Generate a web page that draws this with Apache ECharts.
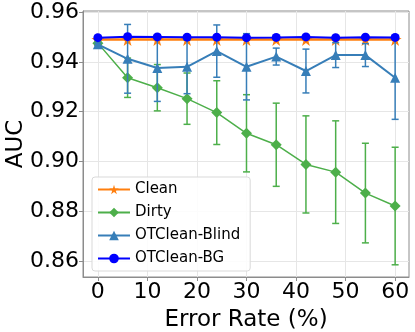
<!DOCTYPE html>
<html>
<head>
<meta charset="utf-8">
<script src="https://cdn.jsdelivr.net/npm/echarts@6/dist/echarts.min.js"></script>
<style>
  html, body { margin: 0; padding: 0; background: #fff; }
  #chart { width: 415px; height: 332px; }
</style>
</head>
<body>
<div id="chart"></div>
<script>
  // error rate (%)
  var errorRates = [0, 6, 12, 18, 24, 30, 36, 42, 48, 54, 60];
  var xTicks = [0, 10, 20, 30, 40, 50, 60];
  var yTicks = [0.86, 0.88, 0.90, 0.92, 0.94, 0.96];

  var cleanMean = [0.9490, 0.9490, 0.9490, 0.9490, 0.9490, 0.9490, 0.9490, 0.9490, 0.9490, 0.9490, 0.9490];
  var cleanErr  = [0.0004, 0.0004, 0.0004, 0.0004, 0.0004, 0.0004, 0.0004, 0.0004, 0.0004, 0.0004, 0.0004];

  var dirtyMean = [0.9475, 0.9336, 0.9296, 0.9252, 0.9196, 0.9113, 0.9067, 0.8988, 0.8957, 0.8873, 0.8821];
  var dirtyErr  = [0.0005, 0.0079, 0.0093, 0.0103, 0.0128, 0.0155, 0.0167, 0.0195, 0.0206, 0.0200, 0.0236];

  var blindMean = [0.9470, 0.9412, 0.9375, 0.9380, 0.9443, 0.9380, 0.9421, 0.9363, 0.9427, 0.9427, 0.9336];
  var blindErr  = [0.0005, 0.0138, 0.0134, 0.0108, 0.0105, 0.0133, 0.0034, 0.0088, 0.0050, 0.0046, 0.0167];

  var bgMean = [0.9497, 0.9501, 0.9500, 0.9499, 0.9499, 0.9497, 0.9498, 0.9500, 0.9497, 0.9499, 0.9498];
  var bgErr  = [0.0006, 0.0006, 0.0006, 0.0006, 0.0006, 0.0006, 0.0006, 0.0006, 0.0006, 0.0006, 0.0006];

  var FONT = 'DejaVu Sans';
  var STAR = 'path://M50,0 L61,35 L98,35 L68,57 L79,91 L50,70 L21,91 L32,57 L2,35 L39,35 Z';

  function pts (mean) {
    return errorRates.map(function (x, i) { return [x, mean[i]]; });
  }
  function bars (mean, err) {
    return errorRates.map(function (x, i) { return [x, mean[i] - err[i], mean[i] + err[i]]; });
  }
  function errRender (color) {
    return function (params, api) {
      var x = api.value(0);
      var lo = api.coord([x, api.value(1)]);
      var hi = api.coord([x, api.value(2)]);
      var w = 3.5;
      var st = { stroke: color, lineWidth: 1.5 };
      return {
        type: 'group',
        children: [
          { type: 'line', shape: { x1: lo[0], y1: lo[1], x2: hi[0], y2: hi[1] }, style: st },
          { type: 'line', shape: { x1: lo[0] - w, y1: lo[1], x2: lo[0] + w, y2: lo[1] }, style: st },
          { type: 'line', shape: { x1: hi[0] - w, y1: hi[1], x2: hi[0] + w, y2: hi[1] }, style: st }
        ]
      };
    };
  }
  function errSeries (mean, err, color, z) {
    return {
      type: 'custom',
      data: bars(mean, err),
      encode: { x: 0, y: [1, 2] },
      renderItem: errRender(color),
      z: z,
      silent: true
    };
  }
  function lineSeries (name, mean, color, symbol, size, width, z) {
    return {
      name: name,
      type: 'line',
      data: pts(mean),
      symbol: symbol,
      symbolSize: size,
      itemStyle: { color: color },
      lineStyle: { color: color, width: width },
      z: z
    };
  }

  var colors = {
    clean: '#ff7f0e',
    dirty: '#4daf4a',
    blind: '#377eb8',
    bg: '#0000ff'
  };

  var option = {
    animation: false,
    textStyle: { fontFamily: FONT },
    grid: {
      left: 83, right: 6, top: 11, bottom: 55,
      containLabel: false,
      outerBoundsMode: 'none',
      show: true, borderColor: '#8c8c8c', borderWidth: 1
    },
    legend: {
      orient: 'vertical',
      left: 92, top: 177,
      itemWidth: 32, itemHeight: 12, itemGap: 8,
      padding: [5, 10, 5, 5],
      backgroundColor: 'rgba(255,255,255,0.85)',
      borderColor: '#d9d9d9', borderWidth: 1, borderRadius: 3,
      textStyle: { fontFamily: FONT, fontSize: 15, color: '#000' },
      data: ['Clean', 'Dirty', 'OTClean-Blind', 'OTClean-BG']
    },
    xAxis: {
      type: 'value',
      min: -3, max: 62.8,
      name: 'Error Rate (%)',
      nameLocation: 'middle',
      nameGap: 32,
      nameMoveOverlap: false,
      nameTextStyle: { fontFamily: FONT, fontSize: 23, color: '#000' },
      axisLine: { show: true, onZero: false, lineStyle: { color: '#8c8c8c' } },
      axisTick: { show: true, length: 4, customValues: xTicks, lineStyle: { color: '#8c8c8c' } },
      axisLabel: { customValues: xTicks, fontFamily: FONT, fontSize: 22, color: '#000', margin: 4 },
      splitLine: { show: true, lineStyle: { color: '#e6e6e6' } }
    },
    yAxis: {
      type: 'value',
      min: 0.8536, max: 0.9604,
      name: 'AUC',
      nameLocation: 'middle',
      nameGap: 55,
      nameMoveOverlap: false,
      nameTextStyle: { fontFamily: FONT, fontSize: 23, color: '#000' },
      axisLine: { show: true, onZero: false, lineStyle: { color: '#8c8c8c' } },
      axisTick: { show: true, length: 4, customValues: yTicks, lineStyle: { color: '#8c8c8c' } },
      axisLabel: {
        customValues: yTicks, fontFamily: FONT, fontSize: 22, color: '#000', margin: 4,
        formatter: function (v) { return v.toFixed(2); }
      },
      splitLine: { show: true, lineStyle: { color: '#e6e6e6' } }
    },
    series: [
      errSeries(cleanMean, cleanErr, colors.clean, 2),
      lineSeries('Clean', cleanMean, colors.clean, STAR, 13, 2.5, 3),
      errSeries(dirtyMean, dirtyErr, colors.dirty, 4),
      lineSeries('Dirty', dirtyMean, colors.dirty, 'diamond', 11, 1.5, 5),
      errSeries(blindMean, blindErr, colors.blind, 6),
      lineSeries('OTClean-Blind', blindMean, colors.blind, 'triangle', 10, 2, 7),
      errSeries(bgMean, bgErr, colors.bg, 8),
      lineSeries('OTClean-BG', bgMean, colors.bg, 'circle', 9, 2, 9)
    ]
  };

  var myecharts = echarts.init(document.getElementById('chart'));
  myecharts.setOption(option);
</script>
</body>
</html>
